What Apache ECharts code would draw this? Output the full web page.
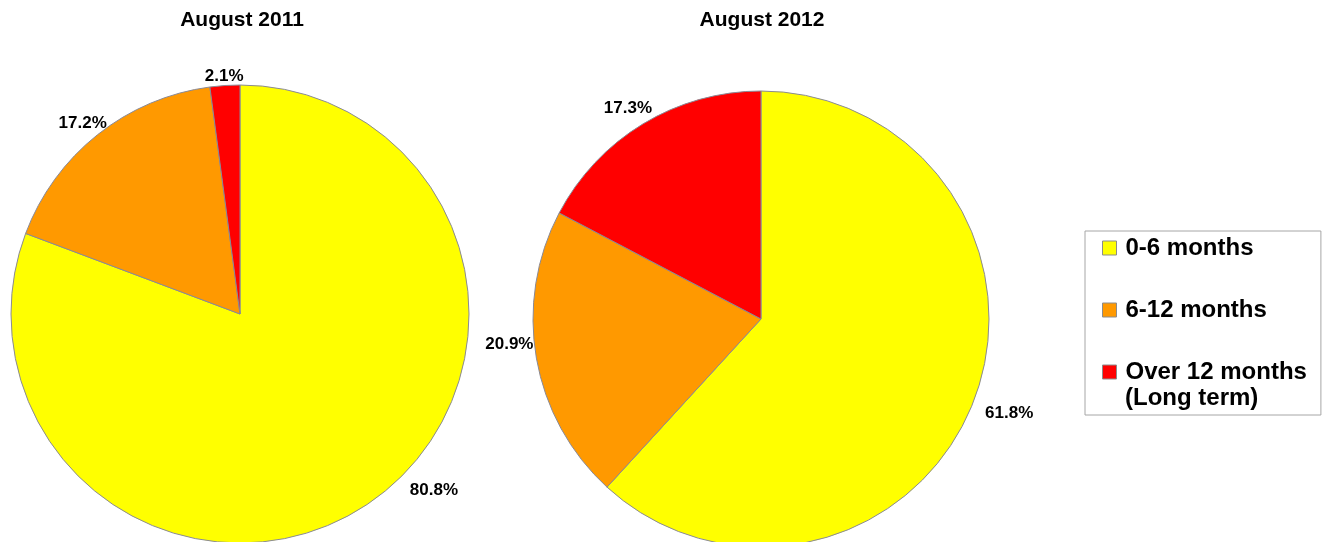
<!DOCTYPE html>
<html>
<head>
<meta charset="utf-8">
<title>Duration breakdown, August 2011 and August 2012</title>
<script src="https://cdn.jsdelivr.net/npm/echarts@6/dist/echarts.min.js"></script>
<style>
  html, body { margin: 0; padding: 0; background: #ffffff; }
  #chart { width: 1327px; height: 542px; }
</style>
</head>
<body>
<div id="chart"></div>
<script>
// Duration bands shared by both pies
const categories = ['0-6 months', '6-12 months', 'Over 12 months (Long term)'];
const legendLabels = ['0-6 months', '6-12 months', 'Over 12 months'];
const legendNote = '(Long term)';
const periods = ['August 2011', 'August 2012'];

// Share of each band (%)
const values2011 = [80.8, 17.2, 2.1];
const values2012 = [61.8, 20.9, 17.3];

const colors = ['#FFFF00', '#FF9900', '#FF0000'];
const FONT = '"Liberation Sans", Arial, Helvetica, sans-serif';

function pieData(values) {
  return categories.map((name, i) => ({ name: name, value: values[i] }));
}

// labelNudge: small per-slice offsets that keep each percentage label
// clear of the rim in the same spots for both years
function pieSeries(values, center, radius, labelNudge) {
  return {
    type: 'pie',
    center: center,
    radius: radius,
    startAngle: 90,
    clockwise: true,
    avoidLabelOverlap: false,
    animation: false,
    data: pieData(values),
    itemStyle: { borderColor: '#8a8a96', borderWidth: 1 },
    label: {
      show: true,
      position: 'outside',
      formatter: p => p.value.toFixed(1) + '%',
      color: '#000',
      fontFamily: FONT,
      fontWeight: 'bold',
      fontSize: 17
    },
    labelLine: { show: false, length: 6, length2: 0 },
    labelLayout: p => ({ dx: labelNudge[p.dataIndex][0], dy: labelNudge[p.dataIndex][1] }),
    emphasis: { disabled: true }
  };
}

const chart = echarts.init(document.getElementById('chart'), null, { renderer: 'canvas' });

const titleStyle = { fontFamily: FONT, fontWeight: 'bold', fontSize: 21, color: '#000' };
const legendFont = { fontFamily: FONT, fontWeight: 'bold', fontSize: 24, lineHeight: 26, color: '#000' };

chart.setOption({
  backgroundColor: '#ffffff',
  color: colors,
  title: [
    { text: periods[0], left: 242, top: 10, padding: 0, textAlign: 'center', textStyle: titleStyle },
    { text: periods[1], left: 762, top: 10, padding: 0, textAlign: 'center', textStyle: titleStyle }
  ],
  legend: {
    orient: 'vertical',
    left: 1085,
    top: 231,
    padding: [4, 14, 30, 17],
    itemGap: 36,
    itemWidth: 14,
    itemHeight: 14,
    icon: 'rect',
    borderColor: '#a6a6a6',
    borderWidth: 1,
    selectedMode: false,
    itemStyle: { borderColor: '#8c8c8c', borderWidth: 1 },
    textStyle: Object.assign({ padding: [0, 0, 0, 4] }, legendFont),
    data: categories.slice(),
    formatter: name => legendLabels[categories.indexOf(name)]
  },
  // second line of the last legend entry, set under "Over 12 months"
  graphic: [
    {
      type: 'text',
      left: 1125,
      top: 386,
      silent: true,
      style: {
        text: legendNote,
        font: 'bold 24px ' + FONT,
        fill: '#000'
      }
    }
  ],
  series: [
    pieSeries(values2011, [240, 314], 229, [[31, -17], [18, -7], [24, -3]]),
    pieSeries(values2012, [761, 319], 228, [[1, 10], [8, -15], [17, -10]])
  ]
});
</script>
</body>
</html>
